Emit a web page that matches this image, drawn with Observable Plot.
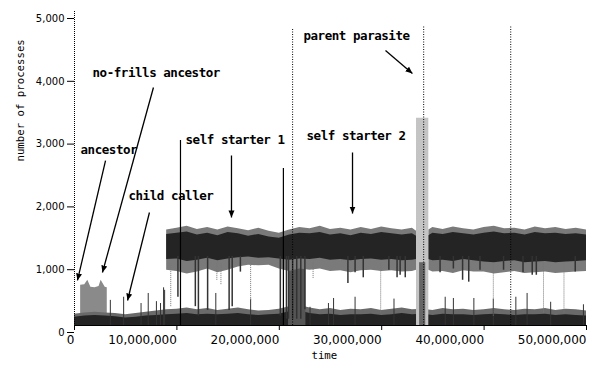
<!DOCTYPE html>
<html><head><meta charset="utf-8">
<script src="https://cdn.jsdelivr.net/npm/d3@7"></script>
<script src="https://cdn.jsdelivr.net/npm/@observablehq/plot@0.6"></script>
<style>body{margin:0;background:#fff}#chart{width:591px;height:365px}</style>
</head><body>
<svg width="0" height="0" style="position:absolute">
<defs>
<marker id="ah" viewBox="-7 -4 8 8" markerWidth="8" markerHeight="8" markerUnits="userSpaceOnUse" orient="auto" refX="0" refY="0">
<path d="M-7,-3L0,0L-7,3Z" fill="#000"/>
</marker>
</defs>
</svg>
<div id="chart"></div>
<script>
// time in millions of steps, values = number of processes
const xTicks = [0, 10, 20, 30, 40, 50];
const yTicks = [0, 1000, 2000, 3000, 4000, 5000];

// upper (self starter) band envelope
const upperT  = [9,10,11,12,13,14,15,16,17,18,19,20,21,22,23,24,25,26,27,28,29,30,31,32,33,33.4,34,34.6,35,36,37,38,39,40,41,42,43,44,45,46,47,48,49,50];
const upperOuterHi = [1520,1550,1580,1530,1560,1520,1570,1540,1510,1550,1500,1470,1520,1560,1540,1580,1530,1550,1520,1560,1530,1570,1540,1520,1550,1500,null,1520,1560,1530,1570,1540,1520,1560,1580,1540,1550,1520,1570,1540,1560,1530,1550,1520];
const upperCoreHi  = [1450,1470,1490,1440,1470,1430,1480,1460,1420,1450,1410,1390,1440,1470,1460,1480,1440,1460,1430,1470,1450,1480,1460,1440,1460,1420,null,1430,1470,1450,1480,1460,1440,1470,1490,1460,1470,1440,1480,1460,1470,1450,1460,1440];
const upperCoreLo  = [1050,1060,1020,1040,1070,1030,1060,1080,1090,1070,1080,1060,1040,1060,1050,1070,1040,1050,1030,1050,1060,1040,1050,1030,1040,1050,null,1050,1030,1040,1020,1050,1030,1010,1000,1020,1030,1000,1010,1020,1000,1010,1020,1030];
const upperOuterLo = [880,860,820,850,900,840,880,930,960,950,960,900,860,900,880,900,860,870,840,870,880,860,870,850,860,880,null,880,850,860,830,870,850,850,820,840,860,830,840,850,830,840,850,860];

// lower (background) band envelope
const lowerT    = [0,1,2,3,4,5,6,7,8,9,10,11,12,13,14,15,16,17,18,19,20,21,22,23,24,25,26,27,28,29,30,31,32,33,34,35,36,37,38,39,40,41,42,43,44,45,46,47,48,49,50];
const lowerHi   = [180,200,210,200,190,170,190,210,230,250,260,280,250,270,240,260,280,250,230,240,260,300,320,280,250,270,240,260,250,270,240,260,280,250,260,240,270,250,260,240,250,270,250,240,260,250,270,240,260,250,230];
const lowerCore = [130,150,160,150,140,120,130,150,160,170,180,190,170,180,170,180,190,170,160,170,180,220,230,190,170,180,160,170,170,180,160,170,190,170,180,160,180,170,170,160,170,180,170,160,170,170,180,160,170,160,150];

// ancestor block
const ancT  = [0.6,1.0,1.3,1.6,2.0,2.4,2.6,3.0,3.2];
const ancHi = [640,650,720,610,600,620,720,610,600];
const ancLo = [180,180,180,180,180,180,180,180,180];

// spikes above the lower band
const lowSpikeT = [3.5,4.8,6.5,7.2,8.0,8.4,8.7,8.8,13.8,17.2,23.0,24.8,25.3,27.4,31.2,36.2,37.0,39.0,40.9,43.1,44.2,46.5,49.7];
const lowSpikeV = [400,450,350,510,380,350,600,560,510,420,290,350,430,450,420,450,430,430,420,450,510,370,330];

// dips below the upper band
const darkDipT = [10.1,11.8,12.1,13.0,15.1,15.4,16.2,20.1,20.7,20.9,21.3,21.7,22.1,22.5,26.7,27.4,28.2,30.7,31.5,31.8,32.3,35.7,37.0,37.9,38.5,39.6,41.9,43.8,44.7,45.1,48.9];
const darkDipV = [450,300,150,240,240,300,850,150,100,100,100,100,100,250,670,840,760,880,760,800,760,840,900,720,690,880,880,840,800,800,850];
const faintDipT = [9.4,13.9,14.3,17.2,23.3,29.9,40.9,45.8,47.8];
const faintDipV = [300,720,650,400,750,200,150,200,200];

// collapse column after self starter 1
const colT = [20.9, 22.6];
const colV = [1100, 1100];

// parent parasite burst
const paraT = [33.4, 34.6];
const paraV = [3300, 3300];
const paraCoreT = [33.7, 34.3];
const paraCoreV = [1000, 1000];

// tall vertical spikes
const solidSpikeT = [10.35, 20.4];
const solidSpikeV = [2946, 2500];
const dotSpikeT = [21.3, 34.1, 42.6];
const dotSpikeV = [4729, 4777, 4777];

// annotations
const annLabels = ["ancestor","no-frills ancestor","child caller","self starter 1","self starter 2","parent parasite"];
const annT = [0.59, 1.76, 5.27, 10.84, 22.66, 22.36];
const annV = [2787, 4013, 2070, 2946, 3010, 4602];
const arrT1 = [3.03, 7.71, 7.32, 15.33, 27.15, 30.37];
const arrV1 = [2627, 3790, 1799, 2707, 2755, 4379];
const arrT2 = [0.29, 2.73, 5.18, 15.33, 27.15, 33.0];
const arrV2 = [717, 844, 398, 1720, 1783, 4013];

const yLabel = "number of processes";
const xLabel = "time";
const xLabelT = 24.4;

const fmt = d3.format(",");
const upperRows = upperT.map((t,i)=>({t, oh:upperOuterHi[i], ch:upperCoreHi[i], cl:upperCoreLo[i], ol:upperOuterLo[i]}));
const lowerRows = lowerT.map((t,i)=>({t, hi:lowerHi[i], core:lowerCore[i]}));
const ancRows = ancT.map((t,i)=>({t, hi:ancHi[i], lo:ancLo[i]}));
const lowSpikes = lowSpikeT.map((t,i)=>({t, v:lowSpikeV[i]}));
const darkDips = darkDipT.map((t,i)=>({t, v:darkDipV[i]}));
const faintDips = faintDipT.map((t,i)=>({t, v:faintDipV[i]}));
const colRows = colT.map((t,i)=>({t, v:colV[i]}));
const paraRows = paraT.map((t,i)=>({t, v:paraV[i]}));
const paraCoreRows = paraCoreT.map((t,i)=>({t, v:paraCoreV[i]}));
const solidSpikes = solidSpikeT.map((t,i)=>({t, v:solidSpikeV[i]}));
const dotSpikes = dotSpikeT.map((t,i)=>({t, v:dotSpikeV[i]}));
const anns = annLabels.map((s,i)=>({s, t:annT[i], v:annV[i]}));
const arrows = arrT1.map((t,i)=>({t1:t, v1:arrV1[i], t2:arrT2[i], v2:arrV2[i]}));

const mono = "DejaVu Sans Mono";
const chart = Plot.plot({
  width: 591, height: 365,
  marginLeft: 74, marginRight: 5, marginTop: 11, marginBottom: 40,
  style: {background: "#fff", color: "#000", overflow: "visible"},
  x: {domain: [0, 50]},
  y: {domain: [0, 5000]},
  marks: [
    Plot.areaY(ancRows, {x:"t", y1:"lo", y2:"hi", fill:"#8a8a8a"}),
    Plot.areaY(lowerRows, {x:"t", y1:0, y2:"hi", fill:"#6a6a6a"}),
    Plot.areaY(lowerRows, {x:"t", y1:0, y2:"core", fill:"#242424"}),
    Plot.areaY(colRows, {x:"t", y1:0, y2:"v", fill:"#555"}),
    Plot.ruleX(lowSpikes, {x:"t", y1:0, y2:"v", stroke:"#333", strokeWidth:1}),
    Plot.areaY(upperRows, {x:"t", y1:"ol", y2:"oh", fill:"#7a7a7a"}),
    Plot.areaY(upperRows, {x:"t", y1:"cl", y2:"ch", fill:"#242424"}),
    Plot.ruleX(darkDips, {x:"t", y1:"v", y2:1100, stroke:"#333", strokeWidth:1.5}),
    Plot.ruleX(faintDips, {x:"t", y1:"v", y2:1000, stroke:"#777", strokeDasharray:"1,1"}),
    Plot.areaY(paraRows, {x:"t", y1:0, y2:"v", fill:"#c4c4c4"}),
    Plot.areaY(paraCoreRows, {x:"t", y1:0, y2:"v", fill:"#666"}),
    Plot.ruleX(solidSpikes, {x:"t", y1:0, y2:"v", stroke:"#000", strokeWidth:1.2}),
    Plot.ruleX(dotSpikes, {x:"t", y1:0, y2:"v", stroke:"#000", strokeDasharray:"1,1.5"}),
    Plot.ruleX([0], {stroke:"#000", strokeDasharray:"1,1"}),
    Plot.ruleY([0], {stroke:"#000"}),
    Plot.axisX({ticks: xTicks, tickSize: 5, tickPadding: 5, textAnchor: "end", fontSize: 12, fontFamily: "DejaVu Sans", tickFormat: d => fmt(d * 1e6), label: null}),
    Plot.axisY({ticks: yTicks, tickSize: 7, tickPadding: 3, dy: 7, fontSize: 10, fontFamily: "DejaVu Sans", tickFormat: fmt, label: null}),
    Plot.link(arrows, {x1:"t1", y1:"v1", x2:"t2", y2:"v2", stroke:"#000", strokeWidth:1.3}),
    Plot.text(anns, {x:"t", y:"v", text:"s", textAnchor:"start", fontFamily: mono, fontWeight:"bold", fontSize:12.5, fill:"#000"}),
    Plot.text([yLabel], {text: d => d, frameAnchor:"left", dx:-54, dy:-7, rotate:-90, fontFamily: mono, fontSize:10.7, fill:"#000"}),
    Plot.text([xLabelT], {x: d => d, text: () => xLabel, frameAnchor:"bottom", dy:33, fontFamily: mono, fontSize:10.7, fill:"#000"})
  ]
});
document.getElementById("chart").appendChild(chart);
const svg = d3.select(chart);
svg.selectAll('g[aria-label="link"] path').attr("marker-end", "url(#ah)");
const annSet = new Set(annLabels);
svg.selectAll("text").filter(function(){ return annSet.has(this.textContent); }).style("letter-spacing", "-0.45px");
</script>
</body></html>
